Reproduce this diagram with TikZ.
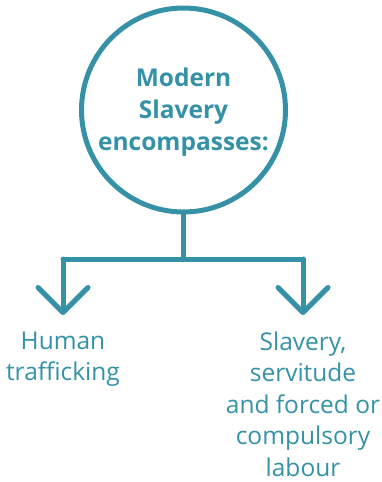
\documentclass[tikz,border=0pt]{standalone}
\usepackage{fontspec}
\setmainfont{Open Sans}
\usetikzlibrary{arrows.meta}
\definecolor{teal1}{HTML}{3592A6}
\begin{document}
\begin{tikzpicture}[x=1pt,y=-1pt,
  conn/.style={draw=teal1,line width=5pt,line join=round,line cap=round},
  arr/.style={conn,-{Straight Barb[length=25pt,width=50pt,round]}},
  bigc/.style={circle,draw=teal1,line width=5pt,minimum size=204pt,inner sep=0pt},
  title/.style={text=teal1,font=\bfseries\fontsize{24.5}{32}\selectfont,align=center},
  label/.style={text=teal1,font=\fontsize{24.5}{31.5}\selectfont,align=center,anchor=north}]
\useasboundingbox (0,0) rectangle (382,482);
\node[bigc] (c) at (183.5,110) {};
\node[title] (t) at (183.5,112) {Modern\\Slavery\\encompasses:};
\coordinate (j) at (183.5,259);
\coordinate (l) at (63,259);
\coordinate (r) at (303,259);
\coordinate (lt) at (63,315);
\coordinate (rt) at (303,315);
\node[label] (hl) at (63,328) {Human\\trafficking};
\node[label] (hr) at (303,328) {Slavery,\\servitude\\and forced or\\compulsory\\labour};
\draw[conn] (c.south) -- (j);
\draw[conn] (l) -- (r);
\draw[arr] (l) -- (lt);
\draw[arr] (r) -- (rt);
\end{tikzpicture}
\end{document}
